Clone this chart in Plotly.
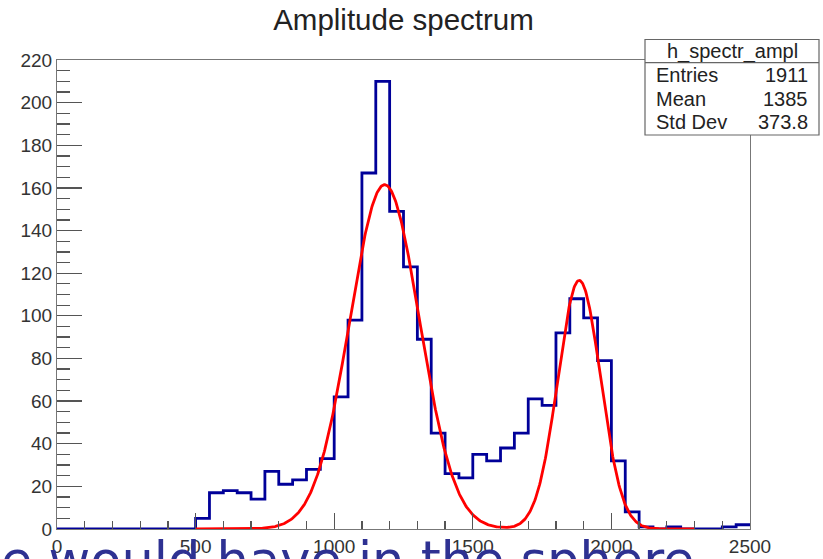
import numpy as np
import plotly.graph_objects as go

# ---- data ----
bin_low = 0
bin_width = 50
counts = [0, 0, 0, 0, 0, 0, 0, 0, 0, 0,
          5, 17, 18, 17, 14, 27, 21, 23, 28, 33,
          62, 98, 167, 210, 149, 123, 89, 45, 26, 24,
          35, 32, 38, 45, 61, 58, 92, 108, 99, 79,
          32, 8, 1, 0, 1, 0, 0, 0, 1, 2]

# double-gaussian fit parameters (amplitude, mean, sigma)
fit_amp = [161.5, 116.6]
fit_mean = [1182.0, 1884.0]
fit_sigma = [126.0, 77.0]
fit_range = [500, 2300]

stats_name = "h_spectr_ampl"
stats_labels = ["Entries", "Mean", "Std Dev"]
stats_values = ["1911", "1385", "373.8"]

title_text = "Amplitude spectrum"
overlay_text = "e would have in the sphere"

# ---- build ----
edges = bin_low + bin_width * np.arange(len(counts) + 1)
step_y = counts + [counts[-1]]

fx = np.linspace(fit_range[0], fit_range[1], 800)
fy = np.zeros_like(fx)
for a, m, s in zip(fit_amp, fit_mean, fit_sigma):
    fy += a * np.exp(-0.5 * ((fx - m) / s) ** 2)

FONT = "Liberation Sans, Arial, sans-serif"

fig = go.Figure()
fig.add_trace(go.Scatter(x=edges, y=step_y, mode="lines",
                         line=dict(color="#000099", width=2.8, shape="hv"),
                         hoverinfo="skip", showlegend=False))
fig.add_trace(go.Scatter(x=fx, y=fy, mode="lines",
                         line=dict(color="#ff0000", width=2.8),
                         hoverinfo="skip", showlegend=False))

L, R, T, B = 57, 73, 60, 30
W, H = 823, 559
pw, ph = W - L - R, H - T - B

def px2x(px):
    return (px - L) / pw

def py2y(py):
    return (H - B - py) / ph

fig.update_layout(
    width=W, height=H,
    margin=dict(l=L, r=R, t=T, b=B, pad=0, autoexpand=False),
    paper_bgcolor="white", plot_bgcolor="white",
    font=dict(family=FONT, color="#333333", size=19),
    title=dict(text=title_text, xref="container", x=403.5 / W, xanchor="center",
               yref="container", y=1 - 20 / H, yanchor="middle",
               font=dict(family=FONT, size=29.5, color="#222222")),
    showlegend=False,
)
fig.update_xaxes(range=[0, 2500], dtick=500, tick0=0, automargin=False,
                 showgrid=False, zeroline=False,
                 showline=True, mirror=True, linecolor="#777777", linewidth=1,
                 ticks="inside", ticklen=16, tickwidth=1.3, tickcolor="#555555",
                 minor=dict(dtick=100, ticks="inside", ticklen=8, tickwidth=1.3,
                            tickcolor="#555555", showgrid=False),
                 tickfont=dict(family=FONT, size=19, color="#333333"))
fig.update_yaxes(range=[0, 220], dtick=20, tick0=0, automargin=False,
                 showgrid=False, zeroline=False,
                 showline=True, mirror=True, linecolor="#777777", linewidth=1,
                 ticks="inside", ticklen=25, tickwidth=1.3, tickcolor="#555555",
                 minor=dict(dtick=5, ticks="inside", ticklen=13, tickwidth=1.3,
                            tickcolor="#555555", showgrid=False),
                 tickfont=dict(family=FONT, size=19, color="#333333"))

# stats box
bx0, bx1 = px2x(645), px2x(819)
by0, by1 = py2y(135), py2y(39.5)
fig.add_shape(type="rect", xref="paper", yref="paper", x0=bx0, x1=bx1, y0=by0, y1=by1,
              line=dict(color="#666666", width=1.2), fillcolor="white", layer="above")
fig.add_shape(type="line", xref="paper", yref="paper", x0=bx0, x1=bx1,
              y0=py2y(62.7), y1=py2y(62.7),
              line=dict(color="#666666", width=1.2), layer="above")
fig.add_annotation(xref="paper", yref="paper", x=px2x(732), y=py2y(51),
                   text=stats_name, showarrow=False, xanchor="center", yanchor="middle",
                   font=dict(family=FONT, size=20, color="#222222"))
row_py = [75, 99, 122]
for lab, val, py in zip(stats_labels, stats_values, row_py):
    fig.add_annotation(xref="paper", yref="paper", x=px2x(654), y=py2y(py),
                       text=lab, showarrow=False, xanchor="left", yanchor="middle",
                       font=dict(family=FONT, size=20, color="#222222"))
    fig.add_annotation(xref="paper", yref="paper", x=px2x(810), y=py2y(py),
                       text=val, showarrow=False, xanchor="right", yanchor="middle",
                       font=dict(family=FONT, size=20, color="#222222"))

# overlay slide text at bottom
fig.add_annotation(xref="paper", yref="paper", x=px2x(-1), y=py2y(529),
                   text=overlay_text, showarrow=False, xanchor="left", yanchor="top",
                   font=dict(family="DejaVu Sans", size=51, color="#2e3192"))

fig.write_html("out.html",
               config={"displayModeBar": False, "staticPlot": True},
               post_script="document.body.style.margin='0';document.body.style.overflow='hidden';")
